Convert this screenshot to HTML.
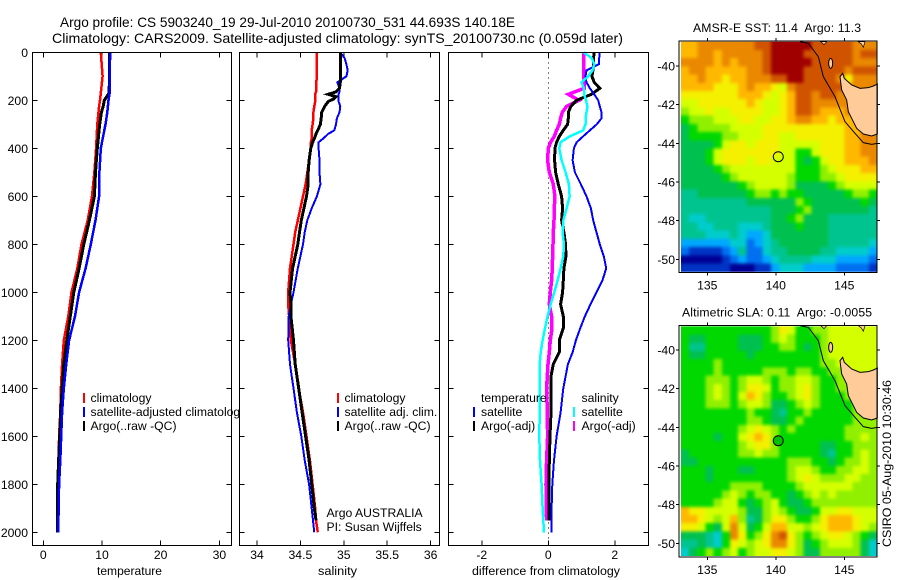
<!DOCTYPE html>
<html>
<head>
<meta charset="utf-8">
<title>Argo profile</title>
<style>
html,body{margin:0;padding:0;background:#fff;width:900px;height:580px;overflow:hidden}
svg{display:block}
text{font-family:"Liberation Sans",sans-serif;font-size:12.2px;fill:#000}
.line{fill:none;shape-rendering:crispEdges;stroke-linejoin:miter}
.crisp{shape-rendering:crispEdges}
</style>
</head>
<body>
<svg id="chart" width="900" height="580" viewBox="0 0 900 580" xmlns="http://www.w3.org/2000/svg">
<defs>
<filter id="soften" filterUnits="userSpaceOnUse" x="660" y="20" width="240" height="560" color-interpolation-filters="sRGB"><feGaussianBlur stdDeviation="1.5"/></filter>
<clipPath id="clip-sst"><rect x="681" y="41.7" width="196" height="230"/></clipPath>
<clipPath id="clip-sla"><rect x="681" y="326.4" width="196" height="229.6"/></clipPath>
</defs>
<rect width="900" height="580" fill="#fff"/>
<text x="60" y="27" style="font-size:14px" textLength="455" lengthAdjust="spacingAndGlyphs">Argo profile: CS 5903240_19 29-Jul-2010 20100730_531 44.693S 140.18E</text>
<text x="52" y="43" style="font-size:14px" textLength="571" lengthAdjust="spacingAndGlyphs">Climatology: CARS2009. Satellite-adjusted climatology: synTS_20100730.nc (0.059d later)</text>
<g id="panels"></g>
<g id="maps"></g>
<text transform="translate(891,463.5) rotate(-90)" text-anchor="middle" textLength="167" lengthAdjust="spacingAndGlyphs">CSIRO 05-Aug-2010 10:30:46</text>
</svg>
<script>
// ---------- profile data ----------
const depthT = [0,100,170,200,225,250,300,400,500,600,700,800,900,1000,1100,1200,1300,1400,1500,1600,1700,1800,1900,2000];
const tempClim = [9.8,10.1,9.8,9.66,9.5,9.4,9.2,9,8.7,8.3,7.56,6.5,5.8,4.8,4.26,3.5,3.2,3,2.9,2.7,2.6,2.55,2.5,2.45];
const tempSat = [11.4,11.3,11.3,11.1,11,10.9,10.6,9.8,9.55,9.5,8.9,8.1,7.2,6.1,5.4,4.4,3.9,3.5,3.2,3.05,2.9,2.7,2.6,2.55];
const tempArgo = [11.3,11.3,11.2,10.4,10.2,9.9,9.6,9.2,8.9,8.7,7.85,6.9,6.1,5.2,4.6,4,3.5,3.2,2.95,2.8,2.6,2.45,2.4,2.4];

const depthS = [0,25,50,75,100,110,125,150,165,175,185,195,205,225,250,275,300,325,340,360,375,400,450,500,550,600,650,700,750,800,900,1000,1050,1100,1200,1300,1400,1500,1600,1700,1800,1900,1950,2000];
const salClim = [34.69,34.69,34.69,34.69,34.69,34.69,34.68,34.68,34.68,34.67,34.67,34.67,34.67,34.66,34.65,34.65,34.64,34.63,34.63,34.63,34.62,34.62,34.6,34.58,34.56,34.53,34.5,34.47,34.44,34.42,34.38,34.36,34.36,34.37,34.39,34.44,34.48,34.53,34.57,34.61,34.64,34.67,34.68,34.7];
const salSat = [34.96,35.01,35.03,35.045,35.03,34.99,34.925,34.95,34.95,34.94,34.94,34.94,34.94,34.96,34.95,34.92,34.91,34.89,34.82,34.76,34.71,34.71,34.72,34.72,34.73,34.69,34.63,34.58,34.55,34.53,34.47,34.42,34.39,34.365,34.36,34.38,34.42,34.46,34.51,34.55,34.6,34.63,34.645,34.66];
const salArgo = [34.96,34.96,34.96,34.96,34.96,34.96,34.96,34.95,34.91,34.82,34.91,34.88,34.82,34.78,34.745,34.74,34.73,34.7,34.68,34.66,34.64,34.62,34.6,34.59,34.59,34.57,34.54,34.51,34.49,34.47,34.41,34.38,34.39,34.39,34.42,34.44,34.48,34.52,34.56,34.6,34.63,34.66,34.68,null];

const depthD = [0,25,50,75,100,125,150,175,200,225,250,275,300,325,350,375,400,450,500,550,600,650,700,750,800,850,900,950,1000,1050,1100,1150,1200,1250,1300,1350,1400,1500,1600,1700,1800,1900,1950,2000];
const diffTempSat = [1.55,1.53,1.52,1.15,1.12,1.15,1.25,1.38,1.5,1.55,1.6,1.6,1.46,1.25,1.05,0.85,0.77,0.73,0.8,0.98,1.15,1.28,1.35,1.45,1.55,1.67,1.74,1.63,1.45,1.27,1.1,0.96,0.83,0.73,0.59,0.52,0.45,0.37,0.25,0.17,0.12,0.1,0.1,0.1];
const diffTempArgo = [1.38,1.36,1.36,1.34,1.31,1.38,1.55,1.3,0.85,0.68,0.6,0.6,0.58,0.45,0.33,0.25,0.2,0.19,0.22,0.3,0.4,0.43,0.4,0.47,0.52,0.53,0.47,0.45,0.43,0.37,0.45,0.45,0.33,0.33,0.15,0.08,0.08,0.08,0.05,0.03,0.02,0.02,0.02,null];
const diffSalSat = [1.06,1.31,1.38,1.33,1.2,1,1.07,1.08,1.13,1.18,1.15,1.12,1.12,1.05,0.65,0.37,0.33,0.4,0.52,0.62,0.64,0.55,0.45,0.43,0.47,0.45,0.37,0.28,0.18,0.07,-0.02,-0.1,-0.17,-0.23,-0.26,-0.26,-0.26,-0.26,-0.27,-0.25,-0.2,-0.17,-0.15,-0.13];
const diffSalArgo = [1.06,1.06,1.06,1.06,1.06,1.09,1.08,0.6,0.92,0.55,0.42,0.37,0.33,0.25,0.18,0.07,0,-0.02,0.03,0.15,0.2,0.18,0.17,0.15,0.14,0.13,0.12,0.1,0.06,0.03,0.1,0.11,0.06,0.03,-0.01,-0.03,-0.05,-0.03,-0.02,-0.05,-0.07,-0.06,-0.05,null];

const depthTicks = [0,200,400,600,800,1000,1200,1400,1600,1800,2000];
const tempTicks = [0,10,20,30];
const salTicks = [34,34.5,35,35.5,36];
const diffTicks = [-2,0,2];

// ---------- map data (colour level per cell, rows north to south) ----------
const sstGrid = [
[11,11,12,12,12,12,12,12,12,13,13,14,14,14,14,14,13,13,13,13,13,12,12,12],
[11,11,12,12,11,12,12,12,12,12,13,14,14,14,14,13,13,13,13,13,13,12,13,13],
[12,12,12,12,11,12,11,12,12,12,13,14,14,14,14,14,13,13,13,13,13,12,12,12],
[11,12,12,11,11,11,11,11,12,12,13,14,14,14,14,13,13,13,13,13,12,13,13,13],
[11,11,12,11,11,10,11,11,12,12,12,13,13,14,14,13,13,13,13,12,10,12,12,12],
[11,11,11,11,10,10,10,11,12,11,11,10,9,12,13,13,13,13,13,13,12,12,12,12],
[10,10,10,10,10,10,10,11,11,11,10,9,10,11,13,13,12,13,13,12,12,12,12,12],
[9,9,10,10,10,10,10,10,11,10,9,9,10,11,13,13,12,12,12,12,12,12,12,12],
[8,9,9,10,9,9,10,10,10,10,9,9,10,11,13,13,12,11,11,11,12,12,12,12],
[7,8,8,8,9,9,9,10,10,9,9,10,10,11,12,12,11,11,10,11,11,11,12,12],
[6,7,8,8,8,8,9,9,9,9,10,10,10,10,10,10,10,10,10,10,11,11,11,12],
[6,7,7,7,7,8,8,9,9,9,10,10,9,9,10,10,10,10,10,10,11,11,12,12],
[6,6,6,6,7,9,10,10,9,10,10,10,9,9,9,9,9,10,10,10,11,11,12,12],
[6,6,6,7,9,10,10,10,10,10,10,10,9,9,7,7,9,10,10,10,11,11,12,12],
[6,6,6,7,9,10,10,10,9,10,10,9,9,9,7,6,7,9,10,10,11,11,11,12],
[6,6,6,6,7,8,9,9,9,9,9,9,9,9,7,7,7,8,9,10,10,10,11,11],
[6,6,6,6,6,7,8,9,9,9,9,9,9,8,7,7,7,8,8,9,10,10,10,10],
[6,6,6,6,6,6,6,7,8,9,9,9,9,8,6,6,6,6,7,8,9,9,9,9],
[5,5,6,6,6,6,6,6,7,8,8,7,8,7,7,6,6,6,6,6,7,8,8,7],
[5,5,5,5,5,5,5,5,6,6,6,6,6,6,8,7,6,6,6,6,6,6,7,6],
[5,5,5,5,5,5,5,5,5,5,5,6,6,6,7,8,6,6,6,6,6,6,6,5],
[5,4,4,5,5,5,5,5,5,5,5,6,6,7,8,6,6,6,5,5,5,5,5,5],
[5,5,4,4,5,5,5,4,4,4,5,6,6,6,7,6,6,6,5,5,5,5,5,5],
[5,5,5,4,4,4,5,4,3,3,4,6,6,6,6,6,6,6,5,5,5,5,5,5],
[3,3,3,3,3,3,4,4,2,3,4,5,6,6,6,6,6,6,5,5,5,5,5,4],
[2,1,1,1,1,2,3,5,2,2,4,5,5,6,6,6,6,5,5,4,4,4,4,3],
[0,0,0,0,0,1,2,3,2,2,3,4,5,5,5,5,4,4,4,3,3,3,3,2],
[1,1,1,1,1,1,0,0,0,1,1,3,4,4,4,3,3,3,3,2,2,2,2,1]
];
const slaGrid = [
[7,7,7,7,7,7,7,7,7,7,7,8,10,9,7,7,8,8,9,9,9,9,9,9],
[7,6,6,7,7,7,7,6,6,6,7,8,9,8,7,7,7,8,9,9,9,9,9,9],
[7,5,5,7,7,7,7,6,6,6,7,7,8,8,7,6,7,8,9,9,9,9,9,9],
[7,6,6,7,7,7,7,7,6,7,7,7,7,7,7,7,7,8,9,9,9,9,9,9],
[7,7,7,7,8,7,7,7,7,7,7,7,7,7,7,7,7,8,8,9,9,9,9,9],
[7,7,7,7,8,7,7,7,7,7,8,8,8,7,8,8,7,7,8,8,9,9,9,9],
[7,7,7,8,8,8,7,8,9,9,8,7,8,8,9,9,8,7,7,8,8,9,9,9],
[7,7,7,8,9,8,7,8,10,10,9,7,8,8,9,10,8,7,7,8,8,8,9,9],
[7,7,7,8,9,8,7,9,11,10,8,7,7,8,9,10,8,7,7,7,8,8,8,8],
[7,7,7,8,8,8,7,8,9,9,8,6,6,7,8,9,8,7,7,7,7,8,8,8],
[7,7,7,7,7,7,7,7,8,7,7,6,5,7,7,8,7,7,7,7,7,8,8,8],
[7,7,7,7,7,7,7,7,8,8,7,6,6,7,8,7,7,7,7,7,7,8,8,8],
[7,7,7,7,7,7,7,8,9,10,9,8,7,8,7,7,7,7,7,7,8,8,8,8],
[7,7,7,7,6,7,7,9,10,11,10,8,7,7,7,7,7,7,7,7,8,8,9,8],
[7,7,7,7,7,7,7,8,9,10,10,8,7,7,7,7,7,6,6,7,7,8,8,8],
[6,7,7,7,7,7,7,8,8,9,8,8,7,7,7,7,7,6,5,7,7,8,9,8],
[6,6,7,7,7,7,7,7,7,7,7,7,7,8,8,8,7,7,6,7,8,8,9,8],
[7,7,7,6,7,7,7,6,6,7,7,7,7,8,9,9,8,7,7,8,8,9,9,8],
[7,7,7,6,7,7,7,7,7,7,7,7,7,8,9,10,9,8,8,8,9,9,8,8],
[7,7,7,7,7,7,8,8,8,8,7,7,7,7,8,9,9,9,9,9,9,8,8,8],
[7,7,7,7,7,8,9,8,7,8,8,7,7,6,7,8,9,8,9,8,8,8,8,8],
[7,7,7,7,8,9,9,7,6,7,8,9,7,6,6,7,8,8,8,8,8,8,8,8],
[11,10,10,9,9,9,9,8,6,6,8,9,8,7,6,6,7,9,9,10,10,9,9,9],
[11,11,10,9,8,9,11,8,5,6,8,10,10,8,7,7,8,10,11,11,11,10,9,9],
[10,10,9,7,6,9,12,9,6,7,9,11,11,9,9,8,9,10,11,11,11,10,9,8],
[6,6,6,5,4,7,12,10,7,8,10,12,13,10,8,7,8,9,10,10,9,8,7,6],
[5,5,6,5,4,7,10,9,8,9,10,12,12,10,8,6,7,8,9,9,9,8,6,4],
[4,6,7,8,7,8,9,7,8,9,9,10,10,9,8,6,6,8,8,8,8,8,6,4]
];
const lonTicks = [135,140,145];
const latTicks = [-40,-42,-44,-46,-48,-50];
const floatLon = [140.18];
const floatLat = [-44.693];

const palette = ['#000094','#0034c4','#0070f0','#00a8ff','#00cccc','#00c490','#00c050','#00d800','#90f000','#d4ff00','#f4f000','#ffb800','#ea8800','#d05400','#a00000'];

const NS = 'http://www.w3.org/2000/svg';
function mk(parent, tag, attrs, txt){
  const e = document.createElementNS(NS, tag);
  for (const k in attrs) e.setAttribute(k, attrs[k]);
  if (txt !== undefined) e.textContent = txt;
  parent.appendChild(e);
  return e;
}
const yDepth = d => 52.3 + 0.24 * d;
const xT = v => 43.3 + 5.87 * v;
const xS = v => 257 + 86.8 * (v - 34);
const xD = v => 548.3 + 33.25 * v;

const panels = document.getElementById('panels');

function drawSeries(g, name, depths, values, xf, color, width){
  const pts = [];
  values.forEach((v, i) => { if (v !== null) pts.push(xf(v).toFixed(1) + ',' + yDepth(depths[i]).toFixed(1)); });
  const l = mk(g, 'polyline', {points: pts.join(' '), stroke: color, 'stroke-width': width, class: 'line'});
  
  
}
function legendRow(g, name, barX, textX, y, color, label){
  if (color) {
    const b = mk(g, 'rect', {x: barX - 1, y: y - 5, width: 2, height: 10, fill: color, class: 'crisp'});
    
    
  }
  const t = mk(g, 'text', {x: textX, y: y + 4}, label);
  
  
}
function drawFrame(pid, left, right, xf, xTicks, title, titleX, titleLen, showY){
  const top = 52.3, bottom = 545.3;
  const g = mk(panels, 'g', {});
  
  
  const bg = mk(g, 'rect', {x: left, y: top, width: right - left, height: bottom - top, fill: '#fff', class: 'crisp'});
  
  
  depthTicks.forEach(d => {
    const y = yDepth(d);
    const t1 = mk(g, 'path', {d: `M${left} ${y}h5M${right} ${y}h-5`, stroke: '#000', 'stroke-width': 1, class: 'crisp'});
    
    
    if (showY) {
      const lb = mk(g, 'text', {x: 28, y: y + 4.5, 'text-anchor': 'end'}, String(d));
      
      
    }
  });
  xTicks.forEach(v => {
    const x = xf(v);
    const t2 = mk(g, 'path', {d: `M${x} ${top}v5M${x} ${bottom}v-5`, stroke: '#000', 'stroke-width': 1, class: 'crisp'});
    
    
    const lb = mk(g, 'text', {x: x, y: 559, 'text-anchor': 'middle'}, String(v));
    
    
  });
  const tt = mk(g, 'text', {x: titleX, y: 575, textLength: titleLen, lengthAdjust: 'spacingAndGlyphs'}, title);
  
  
  return g;
}
function drawBorder(g, pid, left, right){
  const b = mk(g, 'rect', {x: left, y: 52.3, width: right - left, height: 493, fill: 'none', stroke: '#000', 'stroke-width': 1, class: 'crisp'});
  
  
}

// temperature panel
const g1 = drawFrame('temperature', 32.3, 231.3, xT, tempTicks, 'temperature', 97, 65, true);
drawSeries(g1, 'temperature-climatology-line', depthT, tempClim, xT, '#ff0000', 2.5);
drawSeries(g1, 'temperature-argo-line', depthT, tempArgo, xT, '#000000', 3);
drawSeries(g1, 'temperature-satellite-line', depthT, tempSat, xT, '#0000ff', 2.5);
legendRow(g1, 'legend-climatology', 84, 90.5, 398, '#ff0000', 'climatology');
legendRow(g1, 'legend-satellite-adjusted', 84, 90.5, 412, '#0000ff', 'satellite-adjusted climatology');
legendRow(g1, 'legend-argo', 84, 90.5, 426, '#000000', 'Argo(..raw -QC)');
drawBorder(g1, 'temperature', 32.3, 231.3);

// salinity panel
const g2 = drawFrame('salinity', 239.3, 439.3, xS, salTicks, 'salinity', 318, 39, false);
drawSeries(g2, 'salinity-climatology-line', depthS, salClim, xS, '#ff0000', 2.5);
drawSeries(g2, 'salinity-satellite-line', depthS, salSat, xS, '#0000ff', 2);
drawSeries(g2, 'salinity-argo-line', depthS, salArgo, xS, '#000000', 3);
legendRow(g2, 'salinity-legend-climatology', 338, 344.5, 398, '#ff0000', 'climatology');
legendRow(g2, 'salinity-legend-satellite', 338, 344.5, 412, '#0000ff', 'satellite adj. clim.');
legendRow(g2, 'salinity-legend-argo', 338, 344.5, 426, '#000000', 'Argo(..raw -QC)');
legendRow(g2, 'argo-country-note', 0, 326.5, 513, null, 'Argo AUSTRALIA');
legendRow(g2, 'principal-investigator-note', 0, 326.5, 527, null, 'PI: Susan Wijffels');
drawBorder(g2, 'salinity', 239.3, 439.3);

// difference panel
const g3 = drawFrame('difference', 448.3, 648.3, xD, diffTicks, 'difference from climatology', 472, 148, false);
const zero = mk(g3, 'line', {x1: xD(0), x2: xD(0), y1: 52.3, y2: 545.3, stroke: '#000', 'stroke-width': 1, 'stroke-dasharray': '1 4', class: 'crisp'});


drawSeries(g3, 'difference-salinity-argo-line', depthD, diffSalArgo, xD, '#ff00ff', 3.5);
drawSeries(g3, 'difference-temperature-argo-line', depthD, diffTempArgo, xD, '#000000', 3);
drawSeries(g3, 'difference-temperature-satellite-line', depthD, diffTempSat, xD, '#0000ff', 2);
drawSeries(g3, 'difference-salinity-satellite-line', depthD, diffSalSat, xD, '#00ffff', 2.5);
legendRow(g3, 'legend-temperature-heading', 0, 481, 398, null, 'temperature');
legendRow(g3, 'legend-temperature-satellite', 474, 481, 412, '#0000ff', 'satellite');
legendRow(g3, 'legend-temperature-argo', 474, 481, 426, '#000000', 'Argo(-adj)');
legendRow(g3, 'legend-salinity-heading', 0, 581.5, 398, null, 'salinity');
legendRow(g3, 'legend-salinity-satellite', 574, 581.5, 412, '#00ffff', 'satellite');
legendRow(g3, 'legend-salinity-argo', 574, 581.5, 426, '#ff00ff', 'Argo(-adj)');
drawBorder(g3, 'difference', 448.3, 648.3);

// ---------- maps ----------
const mapsG = document.getElementById('maps');
const TAS = '540,200 548,190 553,205 575,225 600,235 625,233 640,228 652,222 652,372 635,378 610,372 590,355 575,325 565,305 560,270 545,240';
const COAST = '420,95 445,100 460,120 475,140 490,200 525,260 545,310 555,335 585,370 610,398 635,403 652,400';

function drawMap(id, grid, title, titleX, titleLen, top, bottom, lat40y, offY, dotFill){
  const left = 679, right = 877, dataL = 681, dataR = 877;
  const dTop = top + 0.7, dBot = bottom - 1;
  const g = mk(mapsG, 'g', {});
  
  
  const xLon = v => 707.3 + 13.7 * (v - 135);
  const yLat = v => lat40y + 19.33 * (-40 - v);
  const cw = (dataR - dataL) / grid[0].length;
  const ch = (dBot - dTop) / grid.length;
  const clip = mk(g, 'g', {'clip-path': `url(#clip-${id})`});
  
  
  const heat = mk(clip, 'g', {filter: 'url(#soften)'});
  
  
  const nR = grid.length, nC = grid[0].length, pad = 10;
  grid.forEach((row, r) => {
    row.forEach((val, c) => {
      const x0 = dataL + c * cw - (c === 0 ? pad : 0);
      const y0 = dTop + r * ch - (r === 0 ? pad : 0);
      const x1 = dataL + (c + 1) * cw + (c === nC - 1 ? pad : 0.5);
      const y1 = dTop + (r + 1) * ch + (r === nR - 1 ? pad : 0.5);
      const cell = mk(heat, 'rect', {x: x0.toFixed(2), y: y0.toFixed(2), width: (x1 - x0).toFixed(2), height: (y1 - y0).toFixed(2), fill: palette[val], class: 'crisp'});
      
      
    });
  });
  const geo = mk(g, 'g', {transform: `translate(660,${offY}) scale(0.33333)`});
  
  
  const land = mk(geo, 'polygon', {points: TAS, fill: '#ffcc99', stroke: '#000', 'stroke-width': 3});
  
  
  const iso = mk(geo, 'polyline', {points: COAST, fill: 'none', stroke: '#000', 'stroke-width': 3});
  
  
  const island = mk(geo, 'ellipse', {cx: 512, cy: 160, rx: 6, ry: 15, fill: '#ffcc99', stroke: '#000', 'stroke-width': 3});
  
  
  const m1 = mk(geo, 'polygon', {points: '482,95 500,95 492,104', fill: '#ffcc99', stroke: '#000', 'stroke-width': 2});
  
  
  const m2 = mk(geo, 'polygon', {points: '595,95 615,95 610,112 604,102', fill: '#ffcc99', stroke: '#000', 'stroke-width': 2});
  
  
  const dot = mk(g, 'circle', {cx: xLon(floatLon[0]), cy: yLat(floatLat[0]), r: 5, fill: dotFill, stroke: '#000', 'stroke-width': 1});
  
  
  const fr = mk(g, 'rect', {x: left, y: top, width: right - left, height: bottom - top, fill: 'none', stroke: '#000', 'stroke-width': 1, class: 'crisp'});
  
  
  lonTicks.forEach(v => {
    const x = xLon(v);
    const t = mk(g, 'path', {d: `M${x} ${top}v-3M${x} ${bottom}v3`, stroke: '#000', 'stroke-width': 1, class: 'crisp'});
    
    
    const lb = mk(g, 'text', {x: x, y: bottom + 17, 'text-anchor': 'middle'}, String(v));
    
    
  });
  latTicks.forEach(v => {
    const y = yLat(v);
    const t = mk(g, 'path', {d: `M${left} ${y}h-3M${right} ${y}h3`, stroke: '#000', 'stroke-width': 1, class: 'crisp'});
    
    
    const lb = mk(g, 'text', {x: 675, y: y + 4.5, 'text-anchor': 'end'}, String(v));
    
    
  });
  const tt = mk(g, 'text', {x: titleX, y: top - 9, textLength: titleLen, lengthAdjust: 'spacing', style: 'white-space:pre'}, title);
  
  
}
drawMap('sst', sstGrid, 'AMSR-E SST: 11.4  Argo: 11.3', 693, 168, 41, 272.7, 66, 10, 'none');
drawMap('sla', slaGrid, 'Altimetric SLA: 0.11  Argo: -0.0055', 682, 190, 325.7, 557, 350, 294, '#00c000');
</script>
</body>
</html>
